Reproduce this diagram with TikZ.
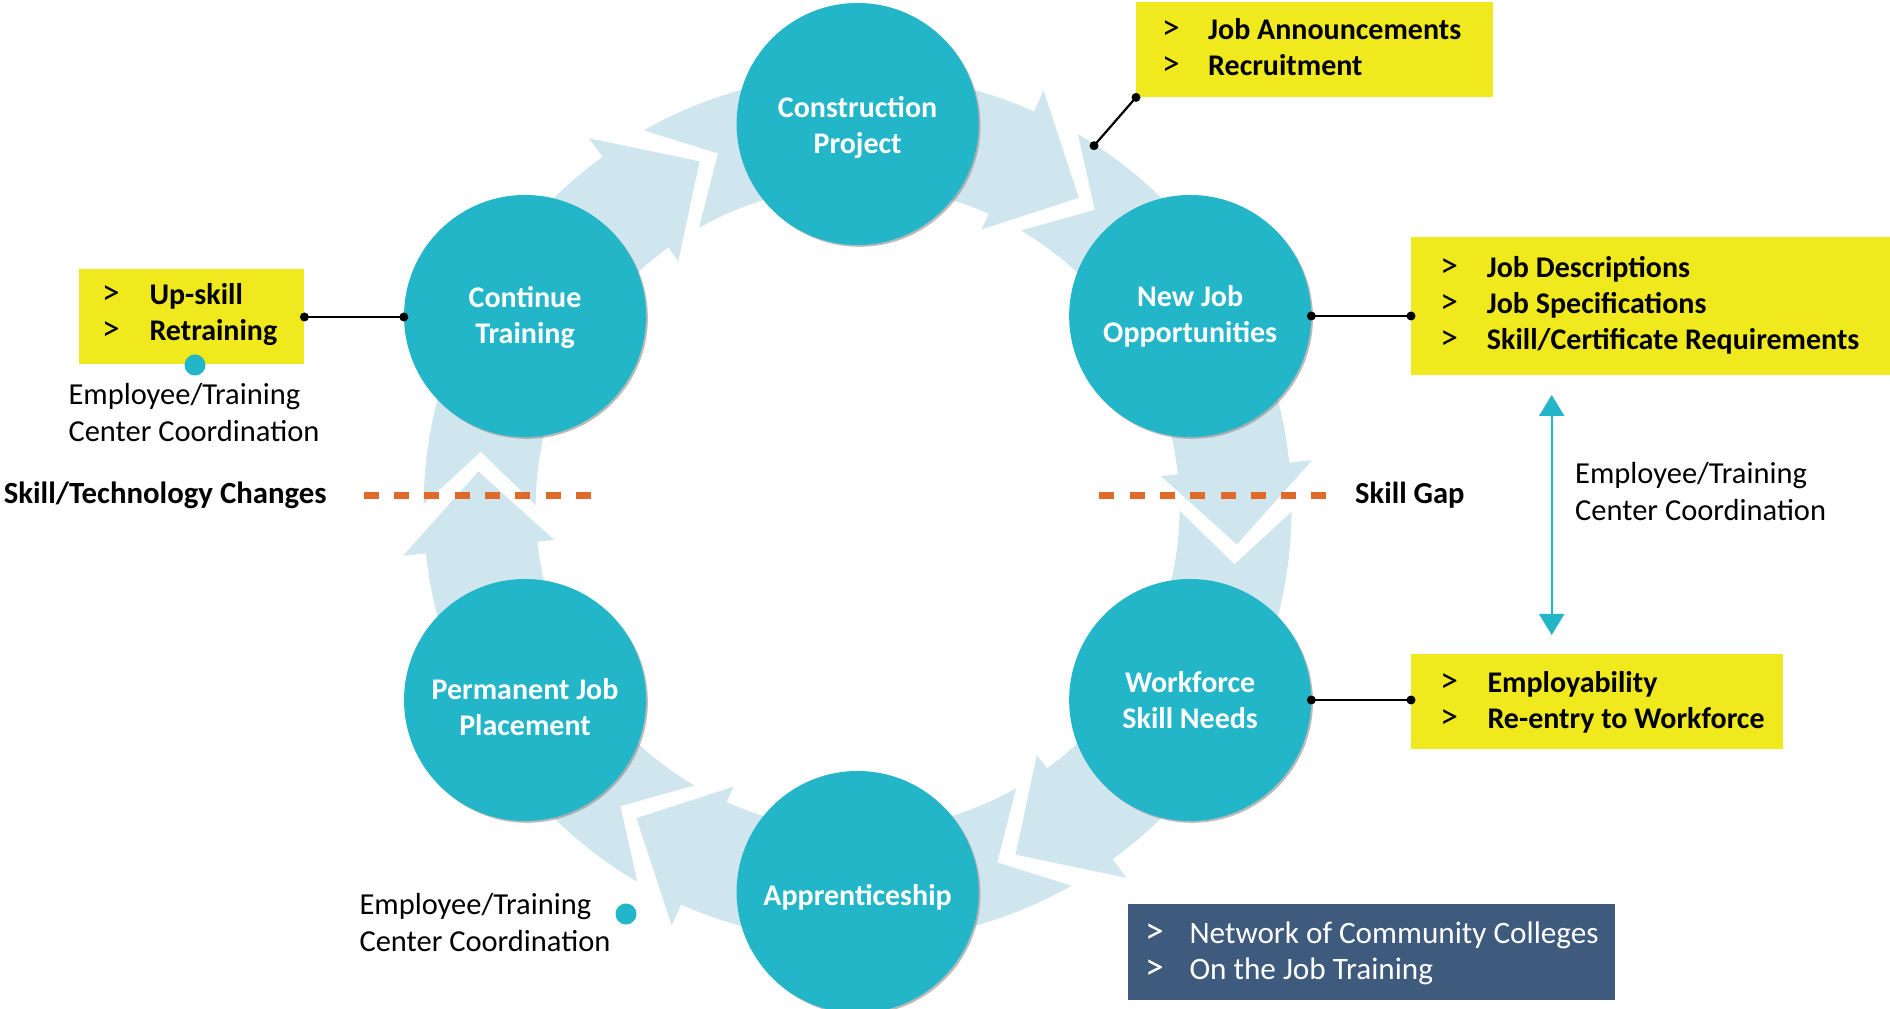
\documentclass[tikz,border=0pt]{standalone}
\usepackage{fontspec}
\usepackage{graphicx}
\setmainfont{Carlito}
\usetikzlibrary{calc,arrows.meta,shadows}
\definecolor{tealc}{HTML}{23B5C8}
\definecolor{bandc}{HTML}{CFE6EE}
\definecolor{yelc}{HTML}{F0E91E}
\definecolor{navyc}{HTML}{3E5B7E}
\definecolor{orngc}{HTML}{E06A2A}
\newcommand{\itm}[2][45.5pt]{\makebox[#1][l]{\mdseries\scalebox{1.2}{>}}#2}
\newcommand{\lst}[1]{\begin{tabular}[t]{@{}l@{}}#1\end{tabular}}
\begin{document}
\begin{tikzpicture}[x=1pt,y=1pt,
  circ/.style={circle, fill=tealc, minimum size=242pt, inner sep=0pt,
    drop shadow={shadow xshift=1.8pt, shadow yshift=-1.8pt, fill=black!45, opacity=0.6}},
  ctxt/.style={inner sep=0pt, text=white, align=center, font=\fontsize{30}{36}\selectfont\bfseries},
  ybox/.style={rectangle, fill=yelc, inner sep=0pt, anchor=north west},
  nbox/.style={rectangle, fill=navyc, inner sep=0pt, anchor=north west},
  ltxt/.style={anchor=base west, inner sep=0pt, font=\fontsize{30}{36}\selectfont\bfseries},
  ntxt/.style={anchor=base west, inner sep=0pt, text=white, font=\fontsize{31.2}{36}\selectfont},
  ptxt/.style={anchor=base west, inner sep=0pt, font=\fontsize{30.5}{36.7}\selectfont},
  cdot/.style={circle, fill=tealc, inner sep=0pt, minimum size=21pt},
  conn/.style={line width=2.2pt, black},
  odash/.style={draw=orngc, line width=7pt, dash pattern=on 15pt off 15.3pt},
  dbl/.style={draw=tealc, line width=2.2pt, {Triangle[length=21pt,width=25pt]}-{Triangle[length=21pt,width=25pt]}}
]
\fill[white] (0,0) rectangle (1890,1009);
\useasboundingbox (0,0) rectangle (1890,1009);
\coordinate (O) at (857.6,501);

% ring of chevron arrows
\begin{scope}[shift={(O)}]
\foreach \m in {60,0,-60,-120,180,120}{
  \fill[bandc] ({\m+59.5}:434pt) arc[start angle=\m+59.5, end angle=\m+6, radius=434pt]
    -- ({\m+6}:457pt) -- ({\m-5.5}:381pt) -- ({\m+6}:305pt) -- ({\m+6}:322pt)
    arc[start angle=\m+6, end angle=\m+59.5, radius=322pt]
    -- ({\m+51.5}:381pt) -- cycle;
}
\end{scope}

% circles
\node[circ] (cp) at ($(O)+(90:384pt)$) {};
\node[circ] (nj) at ($(O)+(30:384pt)$) {};
\node[circ] (ws) at ($(O)+(-30:384pt)$) {};
\node[circ] (ap) at ($(O)+(-90:384pt)$) {};
\node[circ] (pj) at ($(O)+(-150:384pt)$) {};
\node[circ] (ct) at ($(O)+(150:384pt)$) {};
\node[ctxt] (cpt) at ([yshift=-3pt]cp.center) {Construction\\Project};
\node[ctxt] (njt) at ([yshift=0pt]nj.center) {New Job\\Opportunities};
\node[ctxt] (wst) at ([yshift=0pt]ws.center) {Workforce\\Skill Needs};
\node[ctxt] (apt) at ([yshift=-5pt]ap.center) {Apprenticeship};
\node[ctxt] (pjt) at ([yshift=-7pt]pj.center) {Permanent Job\\Placement};
\node[ctxt] (ctt) at ([yshift=-1.5pt]ct.center) {Continue\\Training};

% boxes
\node[ybox, minimum width=357pt, minimum height=95pt] (abox) at (1136,1007) {};
\node[ltxt] (atxt) at (1161.7,969.7) {\lst{\itm[46.3pt]{Job Announcements}\\\itm[46.3pt]{Recruitment}}};

\node[ybox, minimum width=225.7pt, minimum height=95pt] (bbox) at (78.3,739.7) {};
\node[ltxt] (btxt) at (101.7,704) {\lst{\itm[47.6pt]{Up-skill}\\\itm[47.6pt]{Retraining}}};

\node[ybox, minimum width=479pt, minimum height=138.3pt] (cbox) at (1411,772.3) {};
\node[ltxt] (ctxt) at (1440,731.7) {\lst{\itm[46.7pt]{Job Descriptions}\\\itm[46.7pt]{Job Specifications}\\\itm[46.7pt]{Skill/Certificate Requirements}}};

\node[ybox, minimum width=371.3pt, minimum height=94.7pt] (dbox) at (1411,354.7) {};
\node[ltxt] (dtxt) at (1440,316.3) {\lst{\itm[47.3pt]{Employability}\\\itm[47.3pt]{Re-entry to Workforce}}};

\node[nbox, minimum width=487.7pt, minimum height=95.7pt] (ebox) at (1127.3,104.7) {};
\node[ntxt] (etxt) at (1145,65.7) {\lst{\itm[44.3pt]{Network of Community Colleges}\\\itm[44.3pt]{On the Job Training}}};

% plain labels
\node[ptxt] (lcoord) at (68.3,604) {\lst{Employee/Training\\Center Coordination}};
\node[ptxt] (rcoord) at (1575,525) {\lst{Employee/Training\\Center Coordination}};
\node[ptxt] (bcoord) at (359.3,94) {\lst{Employee/Training\\Center Coordination}};
\node[ltxt, font=\fontsize{30.8}{36}\selectfont\bfseries] (stc) at (3.6,505) {Skill/Technology Changes};
\node[ltxt, font=\fontsize{30.5}{36}\selectfont\bfseries] (sg) at (1355,505) {Skill Gap};

% cyan dots
\node[cdot] (dot1) at (195,644) {};
\node[cdot] (dot2) at (626,95) {};

% dashed markers
\coordinate (dl1) at (363.8,513.3);
\coordinate (dl2) at (590.6,513.3);
\coordinate (dr1) at (1099.3,513.3);
\coordinate (dr2) at (1326.7,513.3);
\draw[odash] (dl1) -- (dl2);
\draw[odash] (dr1) -- (dr2);

% connectors
\coordinate (ann) at (1094,863.3);
\draw[conn] (abox.south west) -- (ann);
\fill (abox.south west) circle (4.5pt);
\fill (ann) circle (4.5pt);

\draw[conn] (bbox.east) -- (bbox.east -| ct.west);
\fill (bbox.east) circle (4.5pt);
\fill (bbox.east -| ct.west) circle (4.5pt);

\draw[conn] (nj.east) -- (nj.east -| cbox.west);
\fill (nj.east) circle (4.5pt);
\fill (nj.east -| cbox.west) circle (4.5pt);

\draw[conn] (ws.east) -- (ws.east -| dbox.west);
\fill (ws.east) circle (4.5pt);
\fill (ws.east -| dbox.west) circle (4.5pt);

% double arrow
\coordinate (uaT) at (1551.7,614);
\coordinate (uaB) at (1551.7,374);
\draw[dbl] (uaT) -- (uaB);
\end{tikzpicture}
\end{document}
